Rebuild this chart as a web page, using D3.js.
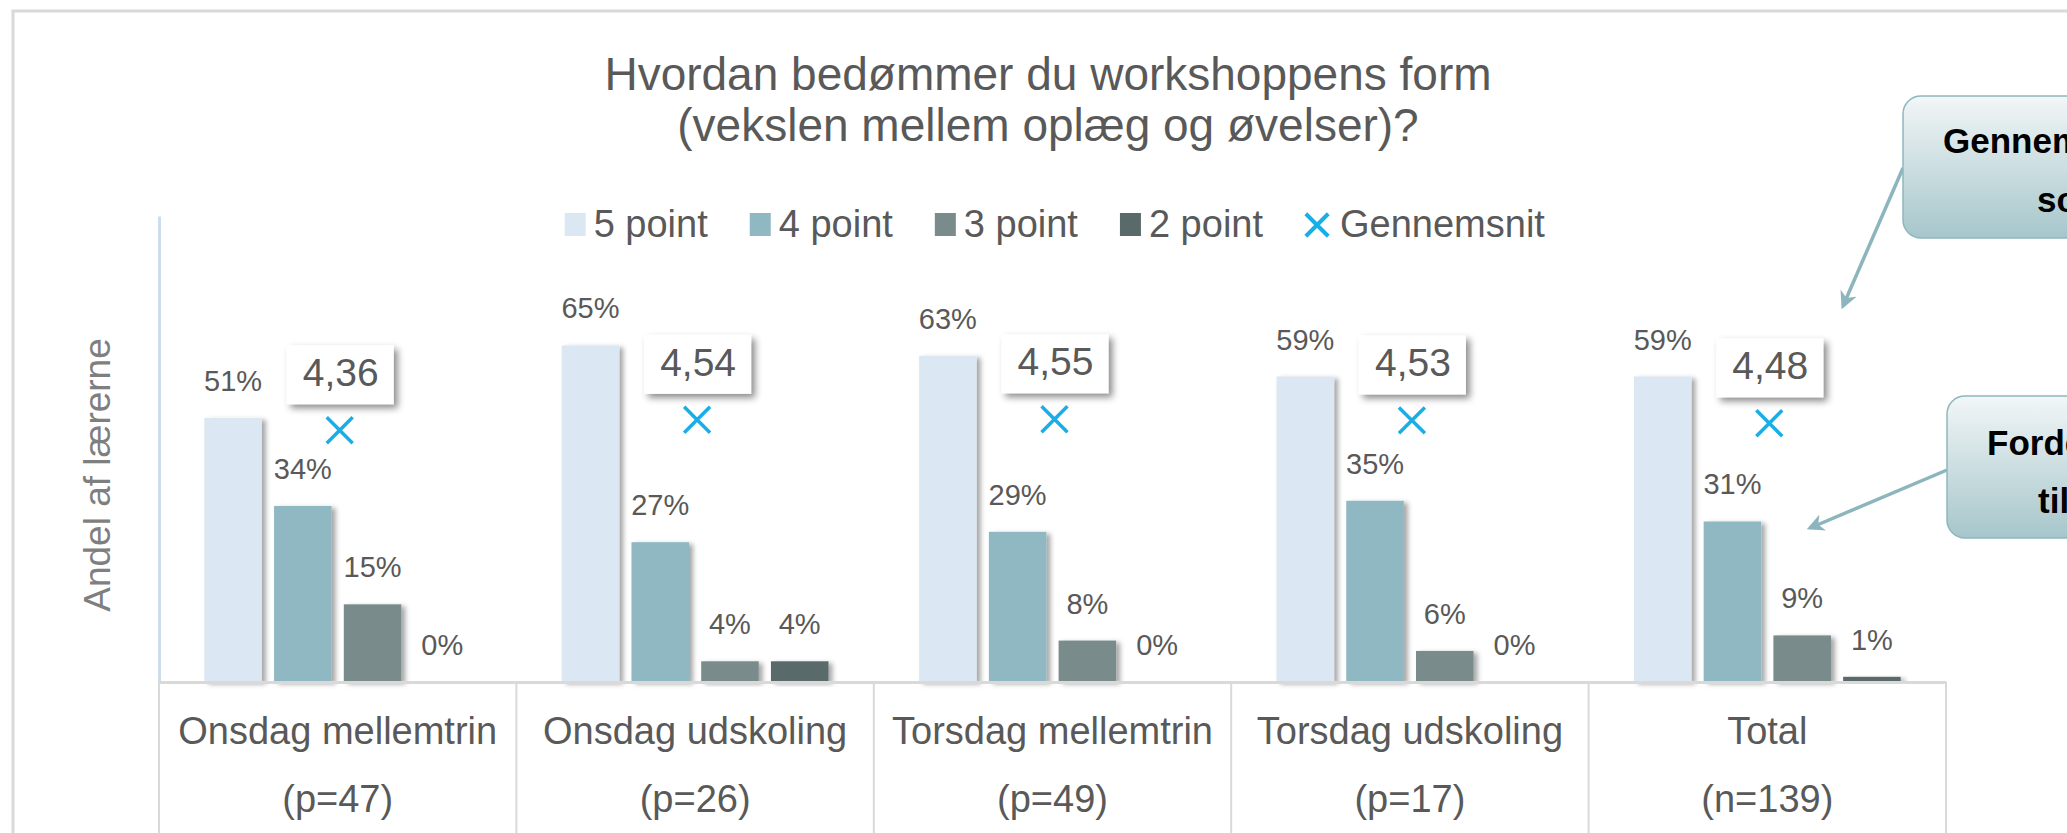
<!DOCTYPE html>
<html>
<head>
<meta charset="utf-8">
<script src="https://cdn.jsdelivr.net/npm/d3@7"></script>
<style>
  html, body { margin: 0; padding: 0; background: #fff; overflow: hidden; }
  svg { display: block; font-family: 'Liberation Sans', Arial, sans-serif; }
</style>
</head>
<body>
<script>
'use strict'

// data
const categories  = ['Onsdag mellemtrin', 'Onsdag udskoling', 'Torsdag mellemtrin', 'Torsdag udskoling', 'Total']
const sampleSizes = ['(p=47)', '(p=26)', '(p=49)', '(p=17)', '(n=139)']
const seriesNames = ['5 point', '4 point', '3 point', '2 point']
const point5 = [0.51, 0.65, 0.63, 0.59, 0.59]
const point4 = [0.34, 0.27, 0.29, 0.35, 0.31]
const point3 = [0.15, 0.04, 0.08, 0.06, 0.09]
const point2 = [0.00, 0.04, 0.00, 0.00, 0.01]
const averages = [4.36, 4.54, 4.55, 4.53, 4.48]
const averageName = 'Gennemsnit'

const titleLines = ['Hvordan bedømmer du workshoppens form', '(vekslen mellem oplæg og øvelser)?']
const yTitle = 'Andel af lærerne'
const callouts = [
  { lines: ['Gennemsnitlig', 'score'], box: [1903, 96, 142], text: [[1943, 153], [2037, 212]], arrow: [[1903, 168], [1843, 306]] },
  { lines: ['Fordeling af', 'tilfredshed'], box: [1947, 396, 142], text: [[1987, 455], [2038, 513]], arrow: [[1947, 470], [1810, 528]] }
]

const W = 2067
const H = 833

const TEXT     = '#595959'
const LIGHT    = '#7f7f7f'
const GRID     = '#d9d9d9'
const AXISBLUE = '#cfdcea'
const MARKER   = '#1aaee6'
const COLORS   = ['#dbe7f2', '#8fb8c2', '#7a8b8c', '#5a6969']

const values = [point5, point4, point3, point2]
const rows = categories.map((c, i) => ({
  category: c,
  sample: sampleSizes[i],
  average: averages[i],
  bars: seriesNames.map((s, j) => ({ series: s, value: values[j][i], color: COLORS[j] }))
}))

const svg = d3.select('body')
  .append('svg')
  .attr('width', W)
  .attr('height', H)

const defs = svg.append('defs')

const barShadow = defs.append('filter')
  .attr('id', 'bar-shadow')
  .attr('x', '-20%').attr('y', '-20%').attr('width', '150%').attr('height', '140%')
barShadow.append('feDropShadow')
  .attr('dx', 4).attr('dy', 2).attr('stdDeviation', 2.5)
  .attr('flood-color', '#000').attr('flood-opacity', 0.35)

const boxShadow = defs.append('filter')
  .attr('id', 'box-shadow')
  .attr('x', '-20%').attr('y', '-20%').attr('width', '150%').attr('height', '160%')
boxShadow.append('feDropShadow')
  .attr('dx', 4).attr('dy', 4).attr('stdDeviation', 3.5)
  .attr('flood-color', '#000').attr('flood-opacity', 0.45)

const grad = defs.append('linearGradient')
  .attr('id', 'callout-fill')
  .attr('x1', 0).attr('y1', 0).attr('x2', 0).attr('y2', 1)
grad.append('stop').attr('offset', '0%').attr('stop-color', '#f2f6f7')
grad.append('stop').attr('offset', '100%').attr('stop-color', '#a6c6cb')

defs.append('marker')
  .attr('id', 'arrow')
  .attr('viewBox', '0 0 10 10')
  .attr('refX', 8).attr('refY', 5)
  .attr('markerWidth', 5).attr('markerHeight', 5)
  .attr('orient', 'auto')
  .append('path')
  .attr('d', 'M0,0 L10,5 L0,10 L3,5 Z')
  .attr('fill', '#8cb5bd')

// outer chart frame
svg.append('rect')
  .attr('x', 13).attr('y', 11)
  .attr('width', W + 100).attr('height', H + 100)
  .attr('fill', '#fff')
  .attr('stroke', GRID)
  .attr('stroke-width', 3)

// scales
const x0 = d3.scaleBand().domain(categories).range([159, 1946])
const x1 = d3.scaleBand().domain(seriesNames).range([0, x0.bandwidth()])
  .paddingInner(0.175).paddingOuter(0.65)
const y = d3.scaleLinear().domain([0, 0.9]).range([682, 216])
const yAvg = d3.scaleLinear().domain([0, 8]).range([682, 220])

const pct = d3.format('.0%')
const avgFmt = v => d3.format('.2f')(v).replace('.', ',')

// title
svg.append('text')
  .attr('x', 1048)
  .attr('text-anchor', 'middle')
  .attr('font-size', 46)
  .attr('fill', TEXT)
  .selectAll('tspan')
  .data(titleLines)
  .join('tspan')
  .attr('x', 1048)
  .attr('y', (d, i) => 90 + i * 51)
  .text(d => d)

// legend
const legendItems = seriesNames.map((s, i) => ({ name: s, color: COLORS[i], kind: 'rect' }))
  .concat([{ name: averageName, color: MARKER, kind: 'x' }])
const legend = svg.append('g')
let lx = 0
legendItems.forEach(item => {
  const g = legend.append('g').attr('transform', `translate(${ lx }, 0)`)
  if (item.kind === 'rect') {
    g.append('rect')
      .attr('x', 0).attr('y', 213)
      .attr('width', 21).attr('height', 23)
      .attr('fill', item.color)
  } else {
    g.append('path')
      .attr('transform', 'translate(12, 225)')
      .attr('d', d3.symbol(d3.symbolX, 330)())
      .attr('stroke', item.color)
      .attr('stroke-width', 4)
  }
  const t = g.append('text')
    .attr('x', item.kind === 'rect' ? 29 : 35)
    .attr('y', 237)
    .attr('font-size', 38)
    .attr('fill', TEXT)
    .text(item.name)
  lx += (item.kind === 'rect' ? 29 : 35) + t.node().getComputedTextLength() + 42
})
const legendWidth = legend.node().getBBox().width
legend.attr('transform', `translate(${ 1055 - legendWidth / 2 }, 0)`)

// y axis (line only) and title
svg.append('g')
  .attr('transform', `translate(${ x0.range()[0] }, 0)`)
  .call(d3.axisLeft(y).tickValues([]).tickSizeOuter(0))
  .call(g => g.select('.domain').attr('stroke', AXISBLUE).attr('stroke-width', 3))

svg.append('text')
  .attr('transform', 'translate(110, 475) rotate(-90)')
  .attr('text-anchor', 'middle')
  .attr('font-size', 37)
  .attr('fill', LIGHT)
  .text(yTitle)

// bars
const groups = svg.append('g')
  .selectAll('g')
  .data(rows)
  .join('g')
  .attr('transform', d => `translate(${ x0(d.category) }, 0)`)

groups.selectAll('rect')
  .data(d => d.bars.filter(b => b.value > 0))
  .join('rect')
  .attr('x', d => x1(d.series))
  .attr('y', d => y(d.value))
  .attr('width', x1.bandwidth())
  .attr('height', d => y(0) - y(d.value))
  .attr('fill', d => d.color)
  .attr('filter', 'url(#bar-shadow)')

groups.selectAll('text.pct')
  .data(d => d.bars)
  .join('text')
  .attr('class', 'pct')
  .attr('x', d => x1(d.series) + x1.bandwidth() / 2)
  .attr('y', d => y(d.value) - 27)
  .attr('text-anchor', 'middle')
  .attr('font-size', 29)
  .attr('fill', TEXT)
  .text(d => pct(d.value))

// x axis: baseline, separators and two-line labels
svg.append('g')
  .attr('transform', `translate(0, ${ y(0) })`)
  .call(d3.axisBottom(x0).tickSize(0).tickSizeOuter(0))
  .call(g => g.select('.domain').attr('stroke', GRID).attr('stroke-width', 3))
  .call(g => g.selectAll('.tick text')
    .attr('font-size', 38)
    .attr('fill', TEXT)
    .attr('y', 0)
    .attr('dy', null)
    .text(null)
    .selectAll('tspan')
    .data(c => [c, sampleSizes[categories.indexOf(c)]])
    .join('tspan')
    .attr('x', 0)
    .attr('y', (d, i) => 62 + i * 68)
    .text(d => d))

const edges = categories.map(c => x0(c)).concat([x0.range()[1]])
svg.append('g')
  .selectAll('line')
  .data(edges)
  .join('line')
  .attr('x1', d => d).attr('x2', d => d)
  .attr('y1', y(0)).attr('y2', H)
  .attr('stroke', GRID)
  .attr('stroke-width', 2)

// averages: marker and boxed label
const avg = svg.append('g')
  .selectAll('g')
  .data(rows)
  .join('g')
  .attr('transform', d => `translate(${ x0(d.category) + x0.bandwidth() / 2 + 2 }, ${ yAvg(d.average) })`)

avg.append('path')
  .attr('d', d3.symbol(d3.symbolX, 440)())
  .attr('stroke', MARKER)
  .attr('stroke-width', 3.5)
  .attr('fill', 'none')

avg.append('rect')
  .attr('x', -53).attr('y', -85)
  .attr('width', 107).attr('height', 59)
  .attr('fill', '#fff')
  .attr('filter', 'url(#box-shadow)')

avg.append('text')
  .attr('x', 1).attr('y', -44)
  .attr('text-anchor', 'middle')
  .attr('font-size', 39)
  .attr('fill', TEXT)
  .text(d => avgFmt(d.average))

// callouts on the right, cut by the page edge
callouts.forEach(c => {
  svg.append('line')
    .attr('x1', c.arrow[0][0]).attr('y1', c.arrow[0][1])
    .attr('x2', c.arrow[1][0]).attr('y2', c.arrow[1][1])
    .attr('stroke', '#8cb5bd')
    .attr('stroke-width', 3.5)
    .attr('marker-end', 'url(#arrow)')
  svg.append('rect')
    .attr('x', c.box[0]).attr('y', c.box[1])
    .attr('width', 400).attr('height', c.box[2])
    .attr('rx', 18)
    .attr('fill', 'url(#callout-fill)')
    .attr('stroke', '#8fb6be')
    .attr('stroke-width', 1.5)
  c.lines.forEach((line, i) => {
    svg.append('text')
      .attr('x', c.text[i][0]).attr('y', c.text[i][1])
      .attr('font-size', 35)
      .attr('font-weight', 'bold')
      .attr('fill', '#000')
      .text(line)
  })
})
</script>
</body>
</html>
